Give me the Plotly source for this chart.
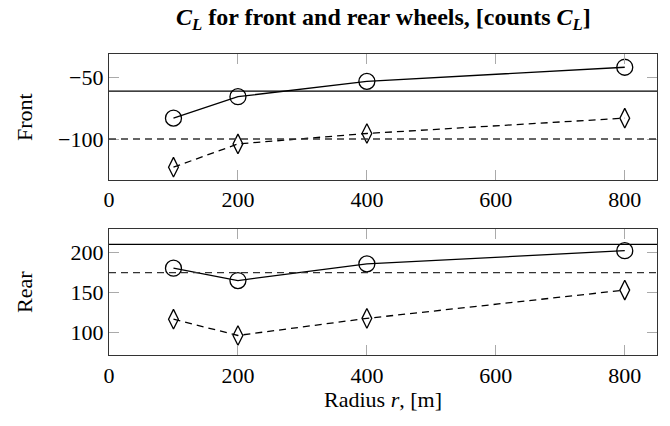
import plotly.graph_objects as go
from plotly.subplots import make_subplots

# Data
radius = [100, 200, 400, 800]
front_circles = [-83, -65.5, -53, -41.5]
front_diamonds = [-123, -104, -95.5, -83]
rear_circles = [180.5, 165, 186, 202.5]
rear_diamonds = [116.5, 96, 117.5, 153]
front_ref_solid = -61
front_ref_dashed = -100
rear_ref_solid = 210.5
rear_ref_dashed = 175

x_ticks = [0, 200, 400, 600, 800]
front_ticks = [-100, -50]
front_ticktext = ["\u2212100", "\u221250"]
rear_ticks = [100, 150, 200]

W, H = 670, 426
OFF = 8  # page body margin in the browser
M = dict(l=109 - OFF, r=13 + OFF, t=54 - OFF, b=71 + OFF)
FONT = dict(family="Liberation Serif", size=22, color="black")
DASH = "7px,5px"

fig = make_subplots(rows=2, cols=1, vertical_spacing=0.163)

panels = [
    (1, front_circles, front_diamonds, front_ref_solid, front_ref_dashed),
    (2, rear_circles, rear_diamonds, rear_ref_solid, rear_ref_dashed),
]
for row, circ, diam, ref_s, ref_d in panels:
    fig.add_trace(go.Scatter(
        x=radius, y=circ, mode="lines+markers",
        line=dict(color="black", width=1.3),
        marker=dict(symbol="circle-open", size=16, color="black", line=dict(width=1.3)),
        showlegend=False
    ), row=row, col=1)
    fig.add_trace(go.Scatter(
        x=radius, y=diam, mode="lines+markers",
        line=dict(color="black", width=1.3, dash=DASH),
        marker=dict(symbol="diamond-tall-open", size=14, color="black", line=dict(width=1.3)),
        showlegend=False
    ), row=row, col=1)
    fig.add_hline(y=ref_s, line=dict(color="black", width=1.3), row=row, col=1)
    fig.add_hline(y=ref_d, line=dict(color="#333", width=1.3, dash=DASH), row=row, col=1)

axis_common = dict(
    showgrid=False, zeroline=False, showline=True, linecolor="#333", linewidth=1.2,
    mirror="allticks", ticks="inside", ticklen=10, tickcolor="#aaa", tickwidth=1,
    tickfont=FONT, automargin=False,
)
for row in (1, 2):
    fig.update_xaxes(range=[0, 850], tickvals=x_ticks, row=row, col=1, **axis_common)

fig.update_yaxes(range=[-133.4, -30.7], tickvals=front_ticks, ticktext=front_ticktext,
                 row=1, col=1, **axis_common)
fig.update_yaxes(range=[71.5, 229.7], tickvals=rear_ticks, row=2, col=1, **axis_common)


def px_x(x):
    return (x - OFF - M["l"]) / (W - M["l"] - M["r"])


def px_y(y):
    return 1 - (y - OFF - M["t"]) / (H - M["t"] - M["b"])


# axis titles as paper annotations (screen pixel positions)
fig.add_annotation(text="Front", x=px_x(24), y=px_y(117), xref="paper", yref="paper",
                   textangle=-90, showarrow=False, font=FONT, xanchor="center", yanchor="middle")
fig.add_annotation(text="Rear", x=px_x(24), y=px_y(292), xref="paper", yref="paper",
                   textangle=-90, showarrow=False, font=FONT, xanchor="center", yanchor="middle")
fig.add_annotation(text="Radius <i>r</i>, [m]", x=0.5, y=px_y(399), xref="paper", yref="paper",
                   showarrow=False, font=FONT, xanchor="center", yanchor="middle")

# title as a paper annotation, placed just below the page top
fig.add_annotation(
    text="<b><i>C<sub>L</sub></i> for front and rear wheels, [counts <i>C<sub>L</sub></i>]</b>",
    x=px_x(383), y=px_y(19), xref="paper", yref="paper", showarrow=False,
    xanchor="center", yanchor="middle",
    font=dict(family="Liberation Serif", size=24, color="black"),
)

fig.update_layout(
    width=W, height=H,
    margin=M,
    plot_bgcolor="white", paper_bgcolor="white",
    font=FONT,
)

fig.write_html("out.html")
